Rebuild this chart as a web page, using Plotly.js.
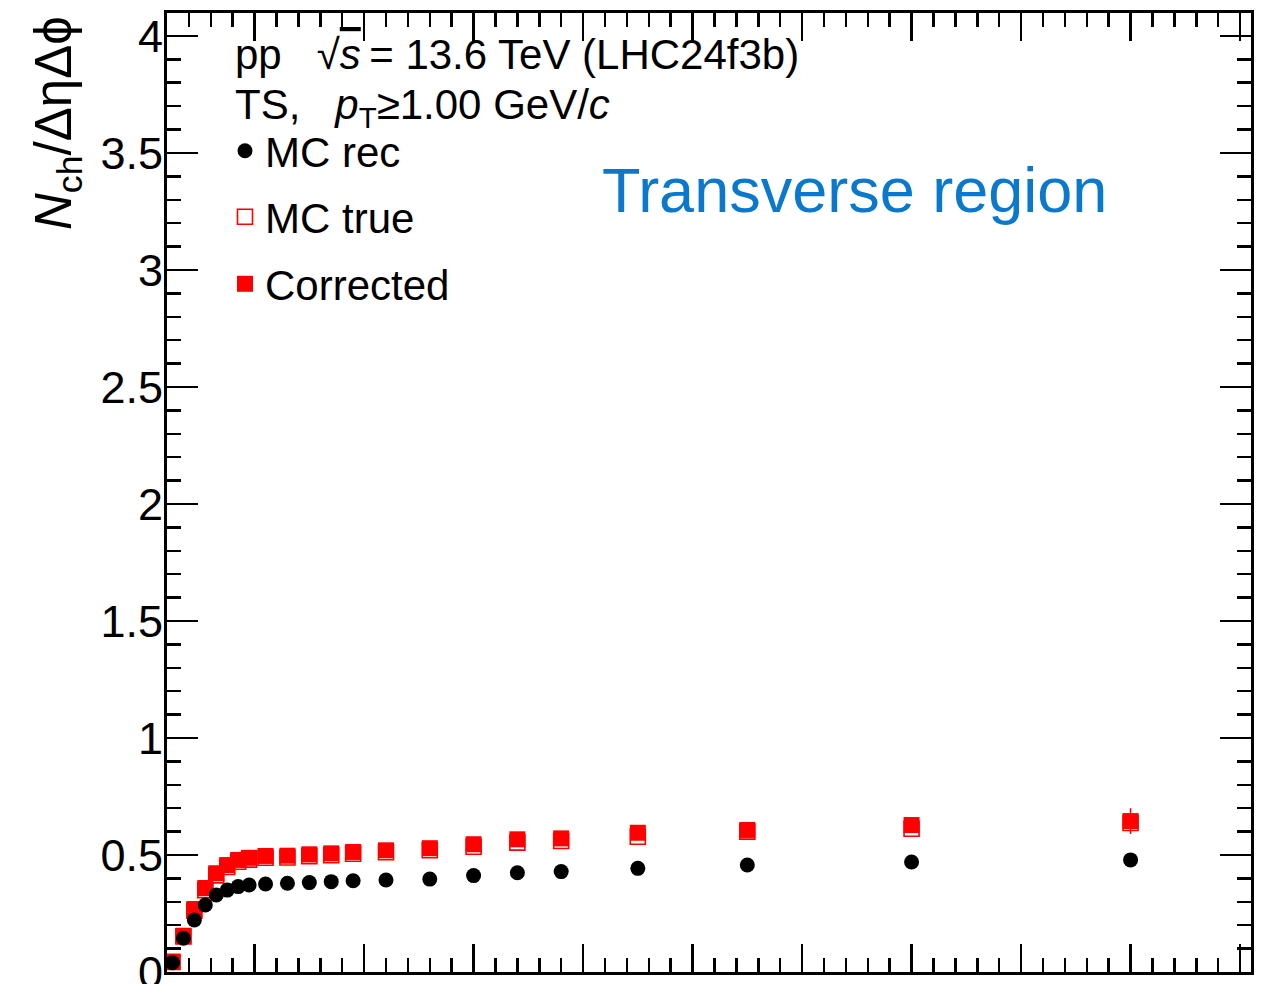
<!DOCTYPE html>
<html>
<head>
<meta charset="utf-8">
<script src="https://cdn.plot.ly/plotly-3.0.1.min.js"></script>
<style>
  html, body { margin: 0; padding: 0; background: #ffffff; }
  #chart { width: 1266px; height: 984px; }
</style>
</head>
<body>
<div id="chart"></div>
<script>
// Charged-particle density in the transverse region vs. leading-track pT (bin centres, GeV/c)
const binCentres = [1.25, 1.75, 2.25, 2.75, 3.25, 3.75, 4.25, 4.75, 5.5, 6.5, 7.5, 8.5, 9.5,
                    11, 13, 15, 17, 19, 22.5, 27.5, 35, 45];

// Reconstructed MC
const mcRec = [0.040, 0.144, 0.222, 0.286, 0.329, 0.350, 0.365, 0.372, 0.376, 0.379, 0.382,
               0.386, 0.390, 0.393, 0.397, 0.412, 0.424, 0.429, 0.443, 0.457, 0.470, 0.479];

// Generator-level MC
const mcTrue = [0.043, 0.152, 0.262, 0.350, 0.413, 0.449, 0.471, 0.480, 0.488, 0.489, 0.495,
                0.499, 0.505, 0.512, 0.520, 0.535, 0.553, 0.560, 0.578, 0.600, 0.612, 0.637];

// Unfolded / corrected result and its statistical uncertainty
const corrected = [0.044, 0.155, 0.269, 0.359, 0.422, 0.457, 0.479, 0.488, 0.496, 0.497, 0.503,
                   0.507, 0.513, 0.520, 0.529, 0.546, 0.567, 0.571, 0.595, 0.607, 0.628, 0.645];
const correctedErr = [0.002, 0.002, 0.002, 0.002, 0.002, 0.002, 0.002, 0.002, 0.003, 0.003, 0.003,
                      0.003, 0.004, 0.004, 0.005, 0.006, 0.008, 0.009, 0.010, 0.014, 0.022, 0.055];

const xTickVals = [5, 10, 15, 20, 25, 30, 35, 40, 45, 50];
const yTickVals = [0, 0.5, 1, 1.5, 2, 2.5, 3, 3.5, 4];
const yTickText = ['0', '0.5', '1', '1.5', '2', '2.5', '3', '3.5', '4'];

const FONT = '"Liberation Sans", Arial, Helvetica, sans-serif';
const RED = '#ff0000';
const NB = '\u00A0';

// plot frame in pixels
const W = 1266, H = 984;
const L = 167, R = 1251, T = 13, B = 972;
const px = v => (v - L) / (R - L);
const py = v => (B - v) / (B - T);

const traces = [
  {
    x: binCentres, y: mcTrue, type: 'scatter', mode: 'markers', name: 'MC true',
    legend: 'legend2',
    marker: { symbol: 'square-open', size: 15, color: RED, line: { color: RED, width: 1.6 } },
    cliponaxis: false
  },
  {
    x: binCentres, y: corrected, type: 'scatter', mode: 'markers', name: 'Corrected',
    legend: 'legend3',
    error_y: { type: 'data', array: correctedErr, visible: true, color: RED, thickness: 1.6, width: 0 },
    marker: { symbol: 'square', size: 16, color: RED, line: { width: 0 } },
    cliponaxis: false
  },
  {
    x: binCentres, y: mcRec, type: 'scatter', mode: 'markers', name: 'MC rec',
    legend: 'legend', showlegend: true,
    marker: { symbol: 'circle', size: 15, color: '#000000', line: { width: 0 } },
    cliponaxis: false
  }
];

const legendCommon = {
  x: px(225), xanchor: 'left', yanchor: 'middle',
  bgcolor: 'rgba(0,0,0,0)', borderwidth: 0,
  font: { family: FONT, size: 42, color: '#000000' },
  itemclick: false, itemdoubleclick: false
};

const axisCommon = {
  showgrid: false, zeroline: false,
  showline: true, linecolor: '#000000', linewidth: 3,
  mirror: 'allticks',
  ticks: 'inside', tickcolor: '#000000', tickwidth: 2.5,
  ticklabeloverflow: 'allow',
  tickfont: { family: FONT, size: 45, color: '#000000' }
};

const layout = {
  width: W, height: H,
  showlegend: true,
  margin: { l: L, r: W - R, t: T, b: H - B, pad: 0 },
  paper_bgcolor: '#ffffff', plot_bgcolor: '#ffffff',
  font: { family: FONT, color: '#000000' },
  xaxis: Object.assign({}, axisCommon, {
    range: [1, 50.5],
    tickmode: 'array', tickvals: xTickVals, ticklen: 28,
    ticklabelstandoff: 1,
    minor: { dtick: 1, tick0: 0, ticks: 'inside', ticklen: 14, tickwidth: 2.5, tickcolor: '#000000', showgrid: false }
  }),
  yaxis: Object.assign({}, axisCommon, {
    range: [0, 4.098],
    tickmode: 'array', tickvals: yTickVals, ticktext: yTickText, ticklen: 31,
    ticklabelstandoff: -8,
    minor: { dtick: 0.1, tick0: 0, ticks: 'inside', ticklen: 14, tickwidth: 2.5, tickcolor: '#000000', showgrid: false }
  }),
  legend: Object.assign({}, legendCommon, { y: py(151) }),
  legend2: Object.assign({}, legendCommon, { y: py(217) }),
  legend3: Object.assign({}, legendCommon, { y: py(284) }),
  annotations: [
    {
      xref: 'paper', yref: 'paper', x: px(233), y: py(55), xanchor: 'left', yanchor: 'middle',
      showarrow: false,
      text: 'pp' + NB + NB + NB + '√<span style="text-decoration:overline"><i>s</i></span>' +
            '\u2009= 13.6 TeV (LHC24f3b)',
      font: { family: FONT, size: 42, color: '#000000' }
    },
    {
      xref: 'paper', yref: 'paper', x: px(233), y: py(108), xanchor: 'left', yanchor: 'middle',
      showarrow: false,
      text: 'TS,' + NB + NB + NB + '<i>p</i><sub>T</sub>≥1.00 GeV/<i>c</i>',
      font: { family: FONT, size: 42, color: '#000000' }
    },
    {
      xref: 'paper', yref: 'paper', x: px(600), y: py(190), xanchor: 'left', yanchor: 'middle',
      showarrow: false,
      text: 'Transverse region',
      font: { family: FONT, size: 63, color: '#0a78cc' }
    },
    {
      xref: 'paper', yref: 'paper', x: px(57), y: py(14), xanchor: 'center', yanchor: 'top',
      textangle: -90, showarrow: false,
      text: '<i>N</i><sub>ch</sub>/ΔηΔϕ',
      font: { family: FONT, size: 51, color: '#000000' }
    }
  ]
};

Plotly.newPlot('chart', traces, layout, { staticPlot: true, displayModeBar: false });
</script>
</body>
</html>
